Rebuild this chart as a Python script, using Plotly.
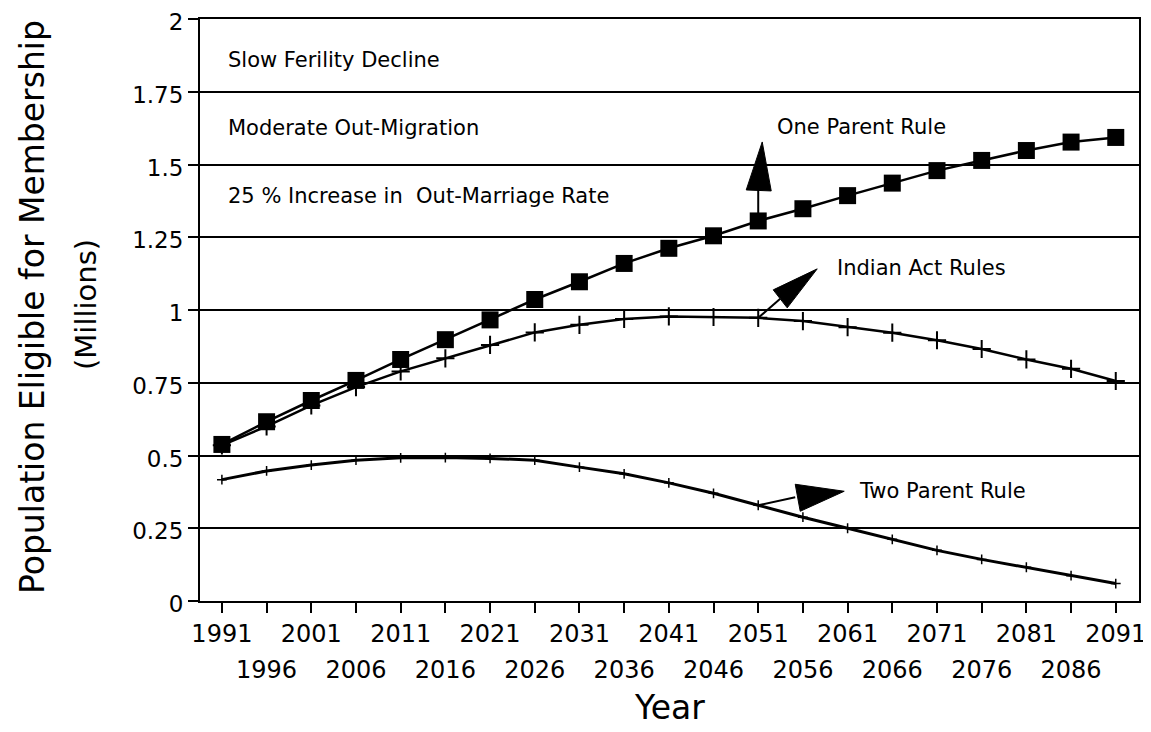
import plotly.graph_objects as go

# ---------------- data ----------------
years = [1991, 1996, 2001, 2006, 2011, 2016, 2021, 2026, 2031, 2036, 2041,
         2046, 2051, 2056, 2061, 2066, 2071, 2076, 2081, 2086, 2091]
one_parent = [0.538, 0.616, 0.689, 0.758, 0.830, 0.898, 0.966, 1.036, 1.097, 1.160, 1.212,
              1.255, 1.306, 1.348, 1.393, 1.436, 1.479, 1.514, 1.548, 1.577, 1.593]
indian_act = [0.535, 0.600, 0.672, 0.735, 0.789, 0.834, 0.880, 0.923, 0.949, 0.969, 0.978,
              0.976, 0.973, 0.962, 0.941, 0.922, 0.896, 0.866, 0.830, 0.798, 0.756]
two_parent = [0.417, 0.447, 0.467, 0.484, 0.492, 0.493, 0.490, 0.484, 0.460, 0.437, 0.406,
              0.370, 0.329, 0.288, 0.250, 0.212, 0.174, 0.143, 0.116, 0.087, 0.060]

y_ticks = [0, 0.25, 0.5, 0.75, 1, 1.25, 1.5, 1.75, 2]
y_ticktext = ["0", "0.25", "0.5", "0.75", "1", "1.25", "1.5", "1.75", "2"]
row1_years = years[0::2]
row2_years = years[1::2]

series_labels = ["One Parent Rule", "Indian Act Rules", "Two Parent Rule"]
scenario_notes = ["Slow Ferility Decline", "Moderate Out-Migration",
                  "25 % Increase in\u00a0 Out-Marriage Rate"]

# ---------------- layout constants ----------------
OFF = 8                      # page body margin
W, H = 1151 - OFF, 732 - OFF
ML, MT = 200 - OFF, 19 - OFF
PR, PB = 1139 - OFF, 601 - OFF
MR, MB = W - PR, H - PB
X_RANGE = [1988.55, 2093.6]
Y_RANGE = [0, 2]
PW, PH = W - ML - MR, H - MT - MB
FONT = "DejaVu Sans"

def dx(px):  # pixel offset -> data x offset
    return px / PW * (X_RANGE[1] - X_RANGE[0])

def dy(py):  # pixel offset (down positive) -> data y offset
    return -py / PH * (Y_RANGE[1] - Y_RANGE[0])

def px_to_paper(px, py):  # screen pixel -> paper coords
    return (px - OFF - ML) / PW, (PB - (py - OFF)) / PH

fig = go.Figure()

fig.add_trace(go.Scatter(
    x=years, y=two_parent, mode="lines+markers", name=series_labels[2],
    line=dict(color="black", width=3),
    marker=dict(symbol="cross-thin", size=7, line=dict(color="black", width=1.5))))
fig.add_trace(go.Scatter(
    x=years, y=indian_act, mode="lines+markers", name=series_labels[1],
    line=dict(color="black", width=2.5),
    marker=dict(symbol="cross-thin", size=13, line=dict(color="black", width=2))))
fig.add_trace(go.Scatter(
    x=years, y=one_parent, mode="lines+markers", name=series_labels[0],
    line=dict(color="black", width=2.5),
    marker=dict(symbol="square", size=17, color="black")))
# carrier for the second row of year labels
fig.add_trace(go.Scatter(x=row2_years, y=[None] * len(row2_years), xaxis="x2",
                         mode="none", showlegend=False, hoverinfo="skip"))

shapes = []
annotations = []

def arrow(xd, yd, stem_end, base1, base2, tip):
    x_s, y_s = xd + dx(stem_end[0]), yd + dy(stem_end[1])
    shapes.append(dict(type="line", xref="x", yref="y", x0=xd, y0=yd, x1=x_s, y1=y_s,
                       line=dict(color="black", width=2)))
    pts = [base1, tip, base2]
    path = "M " + " L ".join(f"{xd + dx(p[0])},{yd + dy(p[1])}" for p in pts) + " Z"
    shapes.append(dict(type="path", xref="x", yref="y", path=path,
                       fillcolor="black", line=dict(color="black", width=1)))

i51 = years.index(2051)
arrow(years[i51], one_parent[i51], (0, -31), (-12, -31), (13, -30), (4, -79))
arrow(years[i51], indian_act[i51], (22, -19), (15, -28), (29, -10), (59, -49))
arrow(years[i51], two_parent[i51], (37, -8), (37, -21), (42, 6), (86, -14))

for text, (px, py) in zip(series_labels, [(775, 127), (835, 268), (857, 491)]):
    xp, yp = px_to_paper(px, py)
    annotations.append(dict(text=text, xref="paper", yref="paper", x=xp, y=yp,
                            xanchor="left", yanchor="middle", showarrow=False,
                            font=dict(family=FONT, size=21, color="black")))
for text, py in zip(scenario_notes, [60, 128, 196]):
    xp, yp = px_to_paper(226, py)
    annotations.append(dict(text=text, xref="paper", yref="paper", x=xp, y=yp,
                            xanchor="left", yanchor="middle", showarrow=False,
                            font=dict(family=FONT, size=21, color="black")))

# axis titles
xp, yp = px_to_paper(669, 707)
annotations.append(dict(text="Year", xref="paper", yref="paper", x=xp, y=yp,
                        xanchor="center", yanchor="middle", showarrow=False,
                        font=dict(family=FONT, size=33, color="black")))
xp, yp = px_to_paper(32, 307)
annotations.append(dict(text="Population Eligible for Membership", xref="paper", yref="paper",
                        x=xp, y=yp, xanchor="center", yanchor="middle", showarrow=False,
                        textangle=-90, font=dict(family=FONT, size=33, color="black")))
xp, yp = px_to_paper(86, 305)
annotations.append(dict(text="(Millions)", xref="paper", yref="paper",
                        x=xp, y=yp, xanchor="center", yanchor="middle", showarrow=False,
                        textangle=-90, font=dict(family=FONT, size=29, color="black")))

fig.update_layout(
    width=W, height=H,
    margin=dict(l=ML, r=MR, t=MT, b=MB, autoexpand=False),
    paper_bgcolor="white", plot_bgcolor="white",
    showlegend=False,
    shapes=shapes, annotations=annotations,
    xaxis=dict(range=X_RANGE, tickmode="array", tickvals=years,
               ticktext=[str(y) if y in row1_years else "" for y in years],
               ticks="outside", ticklen=10, tickwidth=1.5, tickcolor="black",
               showline=True, linecolor="black", linewidth=2, mirror=True,
               showgrid=False, zeroline=False, automargin=False,
               ticklabeloverflow="allow",
               tickfont=dict(family=FONT, size=24, color="black")),
    xaxis2=dict(range=X_RANGE, overlaying="x", anchor="y", side="bottom",
                tickmode="array", tickvals=row2_years, ticktext=[str(y) for y in row2_years],
                ticks="", showline=False, showgrid=False, zeroline=False,
                ticklabelstandoff=52, automargin=False, ticklabeloverflow="allow",
                tickfont=dict(family=FONT, size=24, color="black")),
    yaxis=dict(range=Y_RANGE, tickmode="array", tickvals=y_ticks, ticktext=y_ticktext,
               ticks="outside", ticklen=10, tickwidth=1.5, tickcolor="black",
               showline=True, linecolor="black", linewidth=2, mirror=True,
               showgrid=True, gridcolor="black", gridwidth=1.5, zeroline=False,
               automargin=False, ticklabeloverflow="allow", ticklabelshift=3,
               tickfont=dict(family=FONT, size=23, color="black")),
)

fig.write_html("out.html")
